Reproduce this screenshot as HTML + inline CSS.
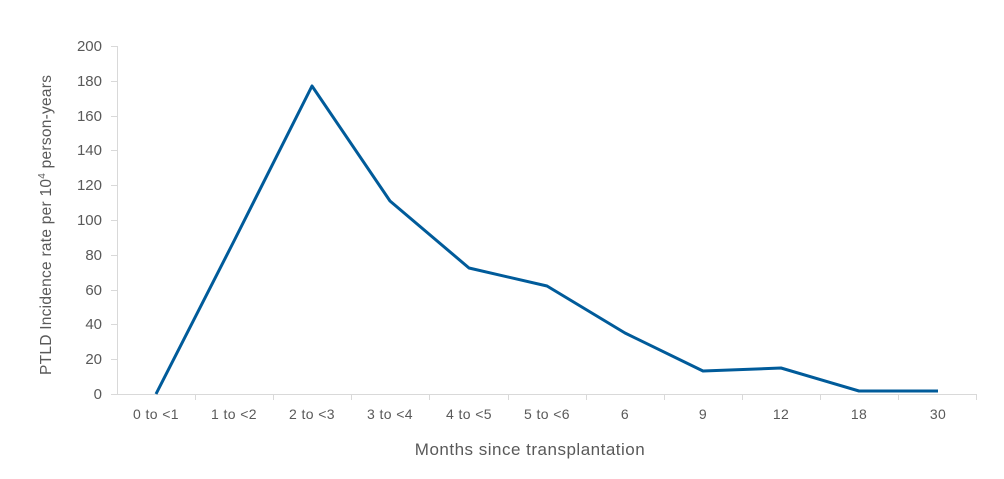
<!DOCTYPE html>
<html><head><meta charset="utf-8"><style>
body{margin:0;background:#fff;}
svg text{font-family:"Liberation Sans",sans-serif;fill:#595959;}
</style></head><body>
<svg width="1004" height="474" viewBox="0 0 1004 474" xmlns="http://www.w3.org/2000/svg">
<g stroke="#d9d9d9" stroke-width="1">
<line x1="117.5" y1="46" x2="117.5" y2="394"/>
<line x1="117" y1="394.5" x2="977" y2="394.5"/>
<line x1="111" y1="46.5" x2="117" y2="46.5"/>
<line x1="111" y1="81.5" x2="117" y2="81.5"/>
<line x1="111" y1="116.5" x2="117" y2="116.5"/>
<line x1="111" y1="150.5" x2="117" y2="150.5"/>
<line x1="111" y1="185.5" x2="117" y2="185.5"/>
<line x1="111" y1="220.5" x2="117" y2="220.5"/>
<line x1="111" y1="255.5" x2="117" y2="255.5"/>
<line x1="111" y1="290.5" x2="117" y2="290.5"/>
<line x1="111" y1="324.5" x2="117" y2="324.5"/>
<line x1="111" y1="359.5" x2="117" y2="359.5"/>
<line x1="111" y1="394.5" x2="117" y2="394.5"/>
<line x1="195.5" y1="394" x2="195.5" y2="400"/>
<line x1="273.5" y1="394" x2="273.5" y2="400"/>
<line x1="351.5" y1="394" x2="351.5" y2="400"/>
<line x1="429.5" y1="394" x2="429.5" y2="400"/>
<line x1="508.5" y1="394" x2="508.5" y2="400"/>
<line x1="586.5" y1="394" x2="586.5" y2="400"/>
<line x1="664.5" y1="394" x2="664.5" y2="400"/>
<line x1="742.5" y1="394" x2="742.5" y2="400"/>
<line x1="820.5" y1="394" x2="820.5" y2="400"/>
<line x1="898.5" y1="394" x2="898.5" y2="400"/>
<line x1="976.5" y1="394" x2="976.5" y2="400"/>
</g>
<g font-size="15" text-anchor="end">
<text x="102" y="51">200</text><text x="102" y="86">180</text><text x="102" y="121">160</text>
<text x="102" y="155">140</text><text x="102" y="190">120</text><text x="102" y="225">100</text>
<text x="102" y="260">80</text><text x="102" y="295">60</text><text x="102" y="329">40</text>
<text x="102" y="364">20</text><text x="102" y="399">0</text>
</g>
<g font-size="14" text-anchor="middle" style="letter-spacing:0.4px">
<text x="156" y="419">0 to &lt;1</text><text x="234" y="419">1 to &lt;2</text><text x="312" y="419">2 to &lt;3</text>
<text x="390" y="419">3 to &lt;4</text><text x="469" y="419">4 to &lt;5</text><text x="547" y="419">5 to &lt;6</text>
<text x="625" y="419">6</text><text x="703" y="419">9</text><text x="781" y="419">12</text>
<text x="859" y="419">18</text><text x="938" y="419">30</text>
</g>
<text x="530" y="455" font-size="17" text-anchor="middle" style="letter-spacing:0.5px">Months since transplantation</text>
<text transform="translate(51,225) rotate(-90)" font-size="15.5" text-anchor="middle" textLength="300" lengthAdjust="spacing">PTLD Incidence rate per 10<tspan font-size="10" dy="-6">4</tspan><tspan dy="6"> person-years</tspan></text>
<polyline fill="none" stroke="#005b9a" stroke-width="3" stroke-linejoin="round"
points="156,394 234,241 312,86 390,201 469,268 547,286 625,333 703,371 781,368 859,391 938,391"/>
</svg>
</body></html>
